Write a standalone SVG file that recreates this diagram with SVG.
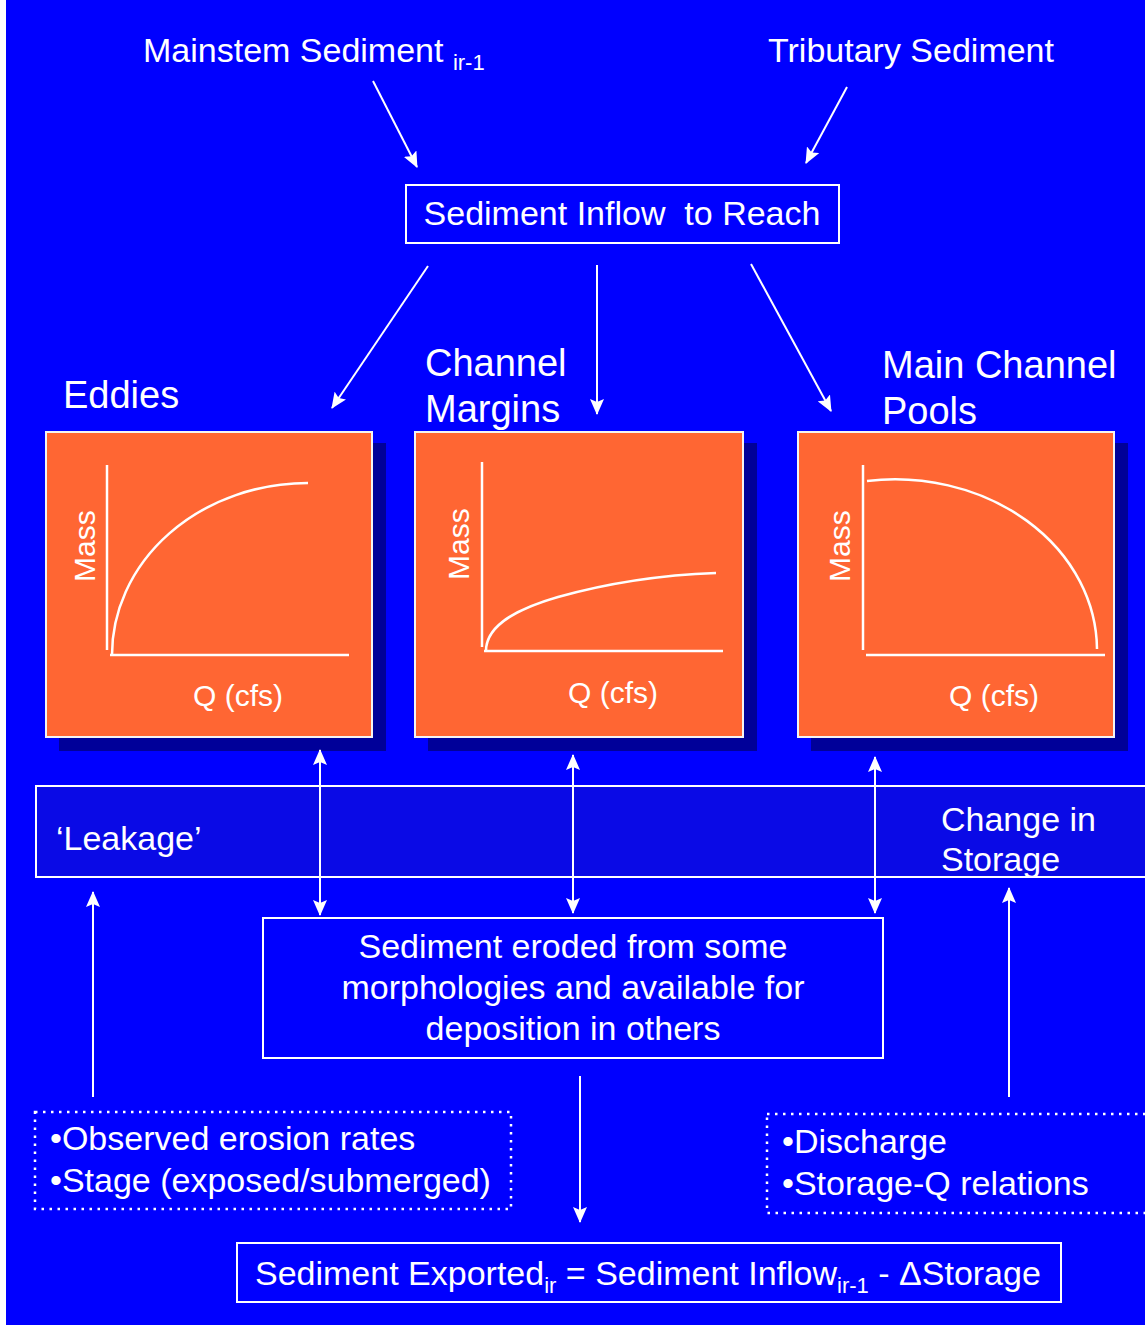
<svg xmlns="http://www.w3.org/2000/svg" width="1145" height="1325" viewBox="0 0 1145 1325">
<defs>
<style>
text{font-family:"Liberation Sans",Arial,sans-serif;fill:#fff;}
.t34{font-size:34px;}
.t38{font-size:38px;}
.t30{font-size:30px;}
.sub{font-size:22px;}
.box{fill:none;stroke:#fff;stroke-width:2;}
.orange{fill:#FF6633;stroke:#F4F4F4;stroke-width:2;}
.shadow{fill:#000099;}
.axis{stroke:#fff;stroke-width:2.5;fill:none;}
.curve{stroke:#fff;stroke-width:2.5;fill:none;}
.conn line{stroke:#fff;stroke-width:2;}
.arr{marker-end:url(#ah);}
.dbl{marker-start:url(#ahs);marker-end:url(#ah);}
.dot{fill:none;stroke:#fff;stroke-width:2.5;stroke-dasharray:2.5 5.5;}
</style>
<marker id="ah" markerUnits="userSpaceOnUse" markerWidth="16" markerHeight="14" refX="15" refY="7" orient="auto">
<path d="M0,0 L16,7 L0,14 L3,7 z" fill="#fff"/>
</marker>
<marker id="ahs" markerUnits="userSpaceOnUse" markerWidth="16" markerHeight="14" refX="1" refY="7" orient="auto">
<path d="M16,0 L0,7 L16,14 L13,7 z" fill="#fff"/>
</marker>
</defs>
<rect x="0" y="0" width="1145" height="1325" fill="#fff"/>
<rect x="6" y="0" width="1139" height="1325" fill="#0000FF"/>

<g id="mainstem">
<text class="t34" x="143" y="62">Mainstem Sediment <tspan class="sub" dy="8">ir-1</tspan></text>
</g>
<g id="tributary">
<text class="t34" x="768" y="62">Tributary Sediment</text>
</g>
<g id="inflow">
<rect class="box" x="406" y="185" width="433" height="58"/>
<text class="t34" x="622" y="225" text-anchor="middle" xml:space="preserve">Sediment Inflow  to Reach</text>
</g>

<g id="eddies">
<text class="t38" x="63" y="408">Eddies</text>
<rect class="shadow" x="59" y="443" width="327" height="308"/>
<rect class="orange" x="46" y="432" width="326" height="305"/>
<line class="axis" x1="107" y1="465" x2="107" y2="650"/>
<line class="axis" x1="110" y1="655" x2="349" y2="655"/>
<path class="curve" d="M112,655 A196,172 0 0 1 308,483"/>
<text class="t30" x="0" y="0" transform="translate(95,582) rotate(-90)">Mass</text>
<text class="t30" x="193" y="706">Q (cfs)</text>
</g>

<g id="margins">
<text class="t38" x="425" y="376">Channel</text>
<text class="t38" x="425" y="422">Margins</text>
<rect class="shadow" x="428" y="443" width="329" height="308"/>
<rect class="orange" x="415" y="432" width="328" height="305"/>
<line class="axis" x1="482" y1="462" x2="482" y2="647"/>
<line class="axis" x1="484" y1="651" x2="723" y2="651"/>
<path class="curve" d="M486,651 C486,630 506,612 558,597 C608,583 660,575 716,573"/>
<text class="t30" x="0" y="0" transform="translate(469,580) rotate(-90)">Mass</text>
<text class="t30" x="568" y="703">Q (cfs)</text>
</g>

<g id="pools">
<text class="t38" x="882" y="378">Main Channel</text>
<text class="t38" x="882" y="424">Pools</text>
<rect class="shadow" x="811" y="443" width="317" height="308"/>
<rect class="orange" x="798" y="432" width="316" height="305"/>
<line class="axis" x1="863" y1="465" x2="863" y2="650"/>
<line class="axis" x1="866" y1="655" x2="1105" y2="655"/>
<path class="curve" d="M867,481 A202,171 0 0 1 1097,649"/>
<text class="t30" x="0" y="0" transform="translate(850,582) rotate(-90)">Mass</text>
<text class="t30" x="949" y="706">Q (cfs)</text>
</g>

<g id="band">
<rect x="36" y="786" width="1120" height="91" fill="#0A0AE6" stroke="#fff" stroke-width="2"/>
<text class="t34" x="56" y="850">‘Leakage’</text>
<text class="t34" x="941" y="831">Change in</text>
<text class="t34" x="941" y="871">Storage</text>
</g>

<g id="eroded">
<rect class="box" x="263" y="918" width="620" height="140"/>
<text class="t34" x="573" y="958" text-anchor="middle">Sediment eroded from some</text>
<text class="t34" x="573" y="999" text-anchor="middle">morphologies and available for</text>
<text class="t34" x="573" y="1040" text-anchor="middle">deposition in others</text>
</g>

<g id="observed">
<rect class="dot" x="35" y="1112" width="476" height="97"/>
<text class="t34" x="50" y="1150">•Observed erosion rates</text>
<text class="t34" x="50" y="1192">•Stage (exposed/submerged)</text>
</g>

<g id="discharge">
<rect class="dot" x="767" y="1114" width="400" height="99"/>
<text class="t34" x="782" y="1153">•Discharge</text>
<text class="t34" x="782" y="1195">•Storage-Q relations</text>
</g>

<g id="exported">
<rect class="box" x="237" y="1243" width="824" height="59"/>
<text class="t34" x="255" y="1285">Sediment Exported<tspan class="sub" dy="8">ir</tspan><tspan dy="-8"> = Sediment Inflow</tspan><tspan class="sub" dy="8">ir-1</tspan><tspan dy="-8"> - ΔStorage</tspan></text>
</g>

<g id="connectors" class="conn">
<line class="arr" x1="373" y1="81" x2="417" y2="167"/>
<line class="arr" x1="847" y1="87" x2="806" y2="163"/>
<line class="arr" x1="428" y1="266" x2="332" y2="408"/>
<line class="arr" x1="597" y1="265" x2="597" y2="414"/>
<line class="arr" x1="751" y1="264" x2="831" y2="411"/>
<line class="dbl" x1="320" y1="750" x2="320" y2="915"/>
<line class="dbl" x1="573" y1="755" x2="573" y2="913"/>
<line class="dbl" x1="875" y1="757" x2="875" y2="913"/>
<line class="arr" x1="93" y1="1097" x2="93" y2="892"/>
<line class="arr" x1="1009" y1="1097" x2="1009" y2="888"/>
<line class="arr" x1="580" y1="1076" x2="580" y2="1222"/>
</g>
</svg>
